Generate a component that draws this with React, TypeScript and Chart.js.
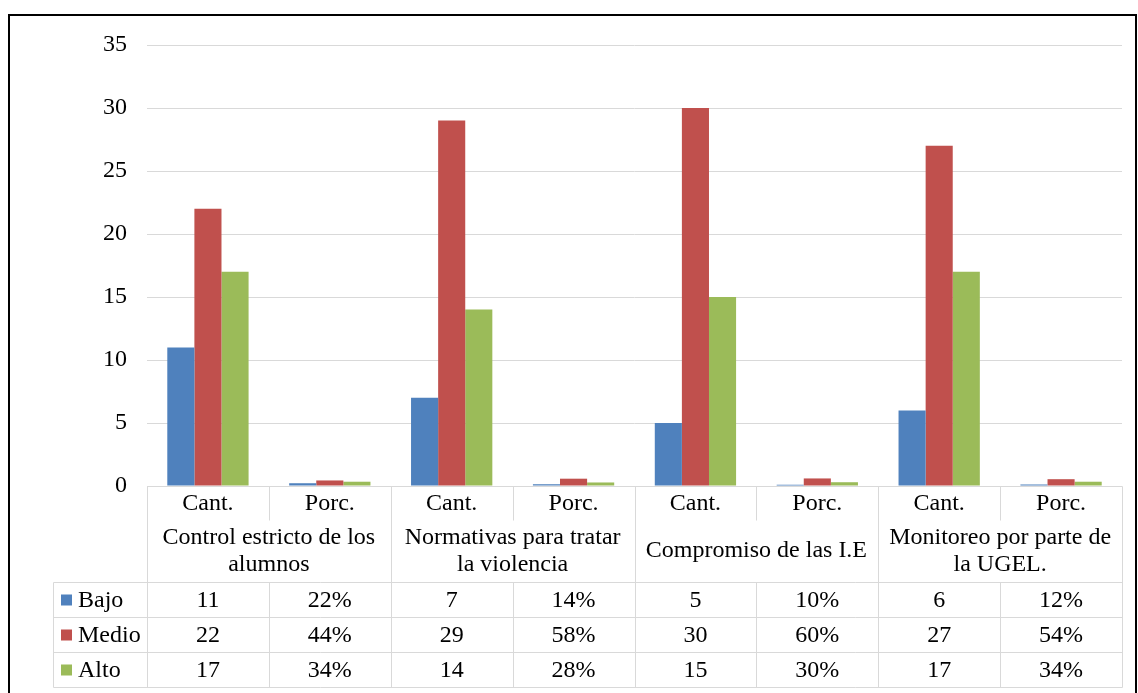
import React, { useEffect, useRef } from "react";
import { Chart, registerables } from "chart.js";

Chart.register(...registerables);

const groupLabels: string[][] = [
  ["Control estricto de los", "alumnos"],
  ["Normativas para tratar", "la violencia"],
  ["Compromiso de las I.E"],
  ["Monitoreo por parte de", "la UGEL."],
];
const subLabels = ["Cant.", "Porc."];
const seriesNames = ["Bajo", "Medio", "Alto"];
const seriesColors = ["#4F81BD", "#C0504D", "#9BBB59"];
const bajo = [11, 0.22, 7, 0.14, 5, 0.1, 6, 0.12];
const medio = [22, 0.44, 29, 0.58, 30, 0.6, 27, 0.54];
const alto = [17, 0.34, 14, 0.28, 15, 0.3, 17, 0.34];
const yMax = 35;
const yStep = 5;

const categories: string[] = groupLabels.flatMap((g) => subLabels.map((s) => g.join(" ") + " " + s));
const seriesValues = [bajo, medio, alto];

const FONT_FAMILY = "'Liberation Serif', 'Times New Roman', serif";
const FONT = "24px " + FONT_FAMILY;

function fmt(v: number, i: number): string {
  return i % 2 === 0 ? String(v) : Math.round(v * 100) + "%";
}

const tablePlugin = {
  id: "dataTable",
  afterDraw(chart: any) {
    const ctx: CanvasRenderingContext2D = chart.ctx;
    const xs = chart.scales.x;
    const area = chart.chartArea;
    const n = categories.length;
    const colW = (area.right - area.left) / n;
    const top = area.bottom;
    const headBottom = top + 34;
    const groupBottom = top + 96;
    const rowH = 35;
    const tableBottom = groupBottom + rowH * 3;
    const legendLeft = 53;
    const line = (x1: number, y1: number, x2: number, y2: number) => {
      ctx.beginPath();
      ctx.moveTo(Math.round(x1) + 0.5, Math.round(y1) + 0.5);
      ctx.lineTo(Math.round(x2) + 0.5, Math.round(y2) + 0.5);
      ctx.stroke();
    };
    ctx.save();
    ctx.strokeStyle = "#d9d9d9";
    ctx.lineWidth = 1;
    line(area.left, top, area.right, top);
    for (let r = 0; r <= 3; r++) {
      line(legendLeft, groupBottom + r * rowH, area.right, groupBottom + r * rowH);
    }
    line(legendLeft, groupBottom, legendLeft, tableBottom);
    for (let i = 0; i <= n; i++) {
      const xb = i < n ? xs.getPixelForValue(i) - colW / 2 : xs.getPixelForValue(n - 1) + colW / 2;
      if (i % 2 === 0) {
        line(xb, top, xb, tableBottom);
      } else {
        line(xb, top, xb, headBottom);
        line(xb, groupBottom, xb, tableBottom);
      }
    }
    ctx.fillStyle = "#000";
    ctx.font = FONT;
    ctx.textAlign = "center";
    ctx.textBaseline = "middle";
    for (let i = 0; i < n; i++) {
      const cx = xs.getPixelForValue(i);
      ctx.fillText(subLabels[i % 2], cx, (top + headBottom) / 2 + 1);
    }
    for (let g = 0; g < groupLabels.length; g++) {
      const cx = (xs.getPixelForValue(g * 2) + xs.getPixelForValue(g * 2 + 1)) / 2;
      const lines = groupLabels[g];
      const mid = (headBottom + groupBottom) / 2;
      const lh = 27;
      lines.forEach((t, k) => {
        ctx.fillText(t, cx, mid + (k - (lines.length - 1) / 2) * lh);
      });
    }
    for (let s = 0; s < seriesNames.length; s++) {
      const cy = groupBottom + s * rowH + rowH / 2 + 1;
      ctx.fillStyle = seriesColors[s];
      ctx.fillRect(61, cy - 6, 11, 11);
      ctx.fillStyle = "#000";
      ctx.textAlign = "left";
      ctx.fillText(seriesNames[s], 78, cy);
      ctx.textAlign = "center";
      seriesValues[s].forEach((v, i) => {
        ctx.fillText(fmt(v, i), xs.getPixelForValue(i), cy);
      });
    }
    ctx.strokeStyle = "#000";
    ctx.lineWidth = 2;
    ctx.strokeRect(9, 15, 1127, 720);
    ctx.restore();
  },
};

export default function App() {
  const ref = useRef<HTMLCanvasElement>(null);
  useEffect(() => {
    if (!ref.current) return;
    const chart = new Chart(ref.current, {
      type: "bar",
      data: {
        labels: categories,
        datasets: seriesNames.map((name, s) => ({
          label: name,
          data: seriesValues[s],
          backgroundColor: seriesColors[s],
          borderWidth: 0,
          barPercentage: 1,
          categoryPercentage: 0.667,
        })),
      },
      options: {
        responsive: false,
        animation: false,
        layout: { padding: { left: 0, right: 16, top: 45, bottom: 207 } },
        plugins: { legend: { display: false }, tooltip: { enabled: false } },
        scales: {
          x: { display: false },
          y: {
            min: 0,
            max: yMax,
            ticks: {
              stepSize: yStep,
              padding: 20,
              color: "#000",
              font: { family: FONT_FAMILY, size: 24 },
            },
            grid: { color: "#d9d9d9", drawTicks: false },
            border: { display: false },
            afterFit(scale: any) {
              scale.width = 147;
            },
          },
        },
      },
      plugins: [tablePlugin],
    });
    return () => chart.destroy();
  }, []);
  return (
    <div style={{ position: "absolute", left: 0, top: 0, width: 1138, height: 693, background: "#fff" }}>
      <canvas ref={ref} width={1138} height={693} style={{ display: "block" }} />
    </div>
  );
}
